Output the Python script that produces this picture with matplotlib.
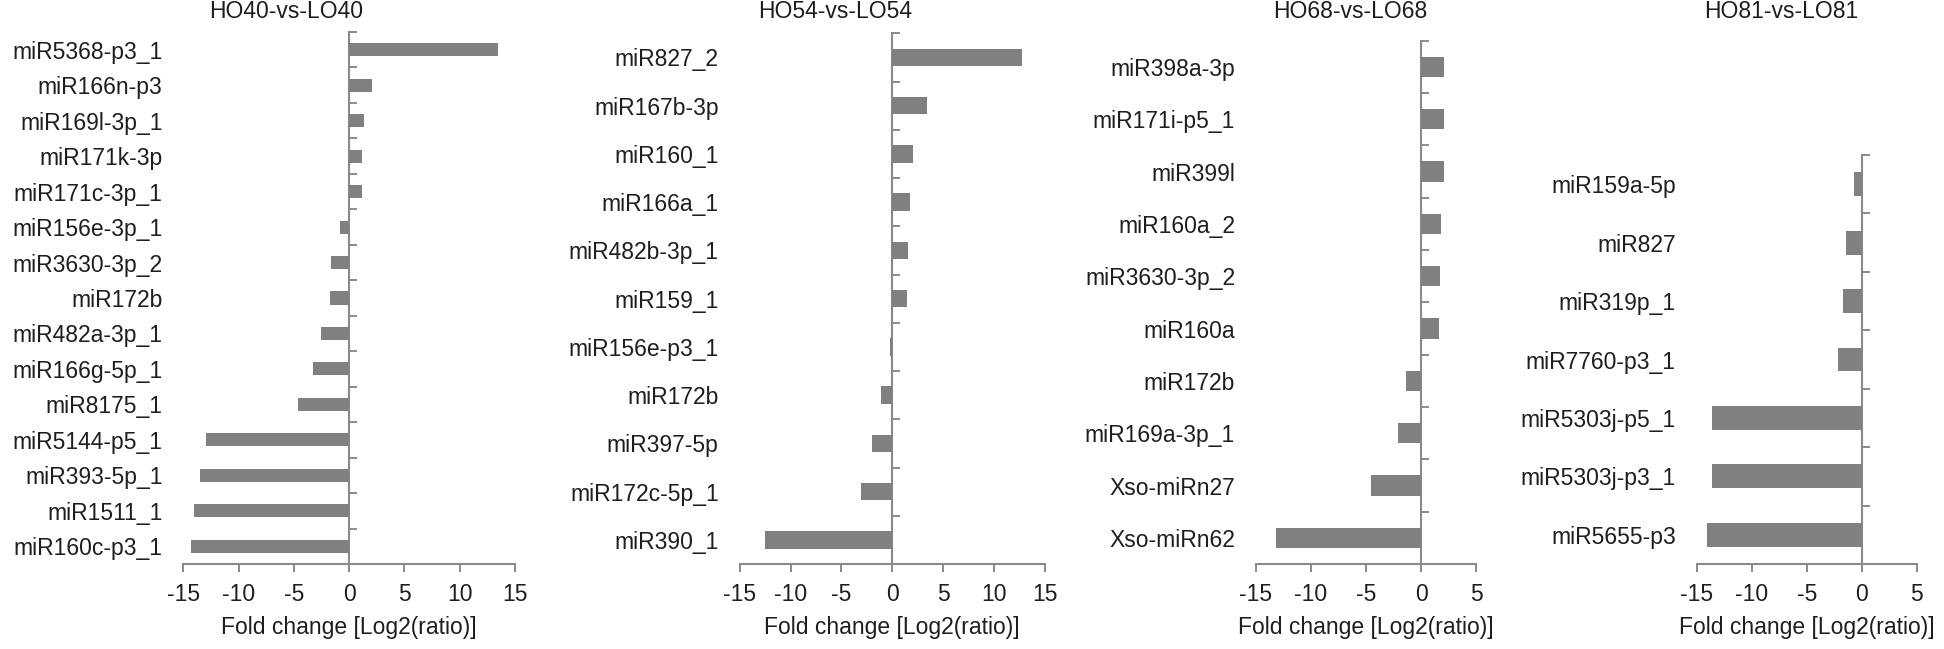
import matplotlib
matplotlib.use("Agg")
import matplotlib.pyplot as plt
import numpy as np

plt.rcParams['font.family'] = ['Liberation Sans', 'DejaVu Sans']
plt.rcParams['axes.unicode_minus'] = False

# ---------------- data ----------------
titles = ["HO40-vs-LO40", "HO54-vs-LO54", "HO68-vs-LO68", "HO81-vs-LO81"]

mirna_40 = ["miR5368-p3_1", "miR166n-p3", "miR169l-3p_1", "miR171k-3p", "miR171c-3p_1",
            "miR156e-3p_1", "miR3630-3p_2", "miR172b", "miR482a-3p_1", "miR166g-5p_1",
            "miR8175_1", "miR5144-p5_1", "miR393-5p_1", "miR1511_1", "miR160c-p3_1"]
fc_40 = [13.5, 2.1, 1.36, 1.15, 1.15, -0.84, -1.6, -1.72, -2.56, -3.3,
         -4.67, -12.96, -13.5, -14.0, -14.3]

mirna_54 = ["miR827_2", "miR167b-3p", "miR160_1", "miR166a_1", "miR482b-3p_1",
            "miR159_1", "miR156e-p3_1", "miR172b", "miR397-5p", "miR172c-5p_1", "miR390_1"]
fc_54 = [12.7, 3.44, 2.03, 1.75, 1.5, 1.4, -0.25, -1.12, -2.0, -3.05, -12.5]

mirna_68 = ["miR398a-3p", "miR171i-p5_1", "miR399l", "miR160a_2", "miR3630-3p_2",
            "miR160a", "miR172b", "miR169a-3p_1", "Xso-miRn27", "Xso-miRn62"]
fc_68 = [2.05, 2.05, 2.05, 1.81, 1.72, 1.6, -1.36, -2.12, -4.59, -13.2]

mirna_81 = ["miR159a-5p", "miR827", "miR319p_1", "miR7760-p3_1",
            "miR5303j-p5_1", "miR5303j-p3_1", "miR5655-p3"]
fc_81 = [-0.67, -1.45, -1.67, -2.18, -13.6, -13.6, -14.1]

x_limits = [(-15, 15), (-15, 15), (-15, 5), (-15, 5)]
x_label = "Fold change [Log2(ratio)]"

# ---------------- layout / style ----------------
W, H = 1944, 649
# (left, top, right, bottom) in pixels
panel_boxes = [(183.3, 32, 515, 564), (739.6, 33.3, 1045, 564),
               (1256, 40.7, 1476, 564), (1696.7, 155, 1916.7, 564)]
title_centers = [286.5, 835, 1350, 1781]
bar_fracs = [0.37, 0.36, 0.39, 0.41]

bar_color = "#808080"
line_color = "#8a8a8a"
text_color = "#1e1e1e"
fs = 16.5

fig = plt.figure(figsize=(W / 100, H / 100), dpi=100)

panels = [(mirna_40, fc_40), (mirna_54, fc_54), (mirna_68, fc_68), (mirna_81, fc_81)]

for i, ((names, vals), (l, t, r, b)) in enumerate(zip(panels, panel_boxes)):
    ax = fig.add_axes([l / W, 1 - b / H, (r - l) / W, (b - t) / H])
    n = len(names)
    pos = np.arange(n)
    ax.barh(pos, vals, height=bar_fracs[i], color=bar_color, zorder=2)
    ax.set_ylim(n - 0.5, -0.5)
    xmin, xmax = x_limits[i]
    ax.set_xlim(xmin, xmax)
    ax.set_xticks(np.arange(xmin, xmax + 1, 5))
    ax.set_yticks(pos)
    ax.set_yticklabels(names)
    ax.tick_params(axis='y', length=0, pad=15, labelsize=fs, labelcolor=text_color)
    ax.tick_params(axis='x', direction='out', length=5.5, width=1.4, color=line_color,
                   pad=8.5, labelsize=fs, labelcolor=text_color)
    for s in ("top", "right", "left"):
        ax.spines[s].set_visible(False)
    ax.spines["bottom"].set_color(line_color)
    ax.spines["bottom"].set_linewidth(1.5)

    # zero axis with ticks between categories
    loc = (0 - xmin) / (xmax - xmin)
    sec = ax.secondary_yaxis(loc)
    sec.set_yticks(np.arange(n + 1) - 0.5)
    sec.set_yticklabels([])
    sec.tick_params(axis='y', direction='out', length=5.5, width=1.4, color=line_color)
    for sp in sec.spines.values():
        sp.set_color(line_color)
        sp.set_linewidth(1.5)

    ax.set_xlabel(x_label, fontsize=fs, color=text_color)
    ax.xaxis.set_label_coords(0.5, (b - 616) / (b - t))

    fig.text(title_centers[i] / W, 1 - 12 / H, titles[i], ha='center', va='center',
             fontsize=fs, color=text_color)

fig.savefig("out.png", dpi=100, facecolor="white")
